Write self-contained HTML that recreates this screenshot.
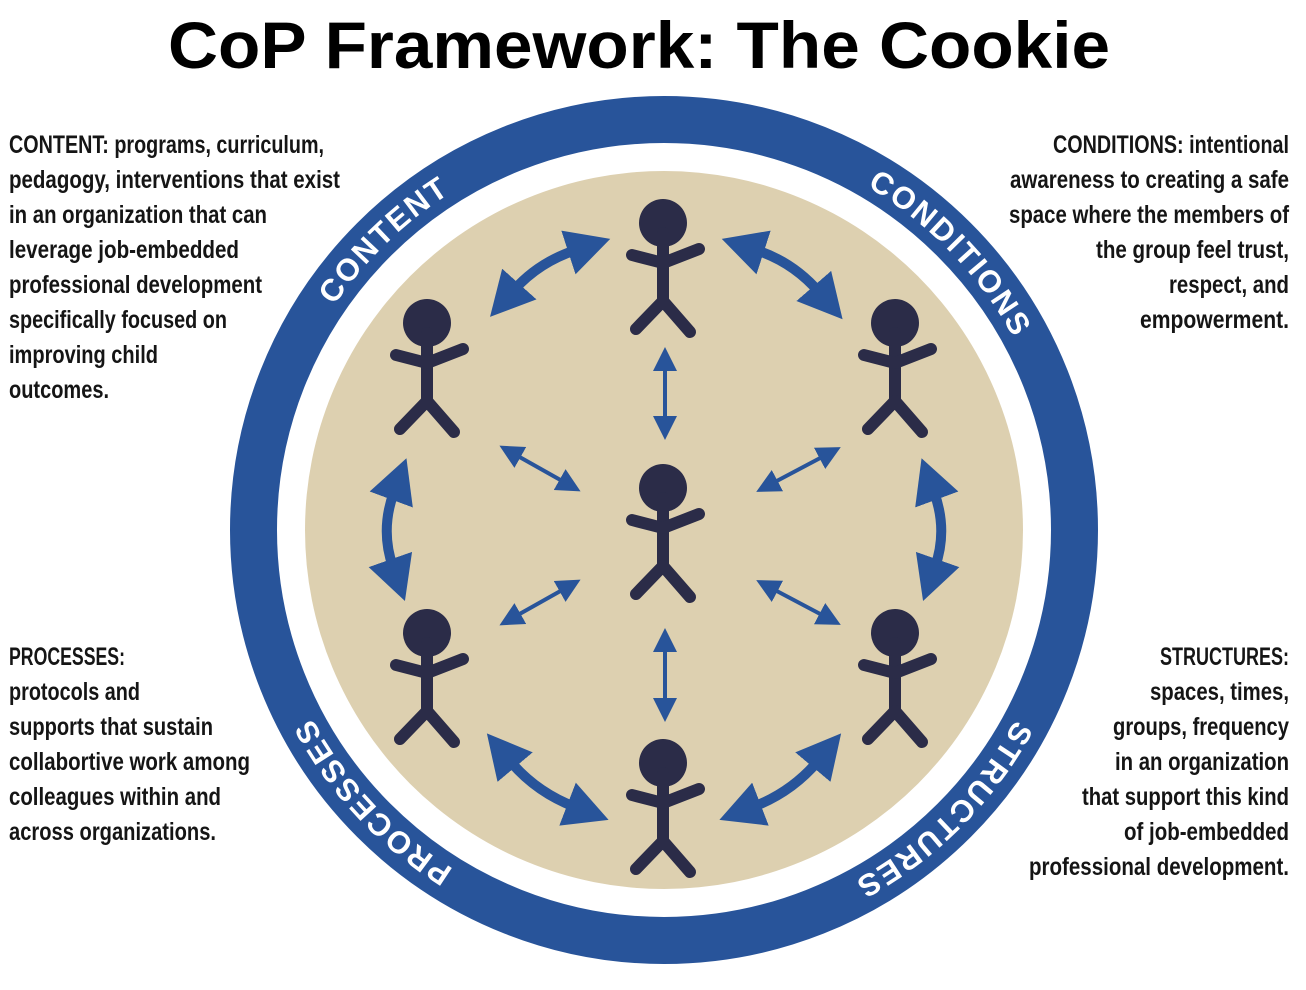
<!DOCTYPE html>
<html><head><meta charset="utf-8"><style>
html,body{margin:0;padding:0;background:#fff;}
svg{display:block}
.t{font-family:"Liberation Sans Narrow","Liberation Sans",sans-serif;font-weight:bold;font-size:25px;fill:#151515}
.ring{font-family:"Liberation Sans",sans-serif;font-weight:bold;font-size:31px;fill:#fff;letter-spacing:2px}
</style></head><body>
<svg width="1306" height="990" viewBox="0 0 1306 990" xmlns="http://www.w3.org/2000/svg">
<defs>
<marker id="big" markerUnits="userSpaceOnUse" markerWidth="50" markerHeight="50" viewBox="0 -25 50 50" refX="8" refY="0" orient="auto-start-reverse"><path d="M0,-23 L44,0 L0,23 z" fill="#28549a"/></marker>
<marker id="sm" markerUnits="userSpaceOnUse" markerWidth="26" markerHeight="26" viewBox="0 -13 26 26" refX="5" refY="0" orient="auto-start-reverse"><path d="M0,-12 L24,0 L0,12 z" fill="#28549a"/></marker>
<g id="fig" stroke="#2b2c48" stroke-width="12" stroke-linecap="round" fill="none">
<circle cx="0" cy="0" r="24" fill="#2b2c48" stroke="none"/>
<line x1="0" y1="10" x2="0" y2="80"/>
<polyline points="-31,32 0,40 36,26" stroke-linejoin="round"/>
<polyline points="-27,106 0,78 27,109" stroke-linejoin="round"/>
</g>
<path id="pContent" d="M267.2,488.3 A399,399 0 0 1 636.2,132.0"/>
<path id="pCond" d="M705.7,133.2 A399,399 0 0 1 1062.0,502.2"/>
<path id="pStruct" d="M1061.5,564.8 A399,399 0 0 1 698.8,927.5"/>
<path id="pProc" d="M615.4,926.0 A399,399 0 0 1 265.6,550.9"/>
</defs>

<text x="639" y="68" text-anchor="middle" font-family="'Liberation Sans',sans-serif" font-weight="bold" font-size="66" fill="#000" textLength="942" lengthAdjust="spacingAndGlyphs">CoP Framework: The Cookie</text>

<circle cx="664" cy="530" r="410.5" fill="none" stroke="#28549a" stroke-width="47"/>
<circle cx="664" cy="530" r="359" fill="#ddd0b0"/>

<text class="ring"><textPath href="#pContent" startOffset="50%" text-anchor="middle">CONTENT</textPath></text>
<text class="ring"><textPath href="#pCond" startOffset="50%" text-anchor="middle">CONDITIONS</textPath></text>
<text class="ring"><textPath href="#pStruct" startOffset="50%" text-anchor="middle">STRUCTURES</textPath></text>
<text class="ring"><textPath href="#pProc" startOffset="50%" text-anchor="middle">PROCESSES</textPath></text>

<g fill="none" stroke="#28549a" stroke-width="10">
<path d="M514,290 Q539,262 576,250" marker-start="url(#big)" marker-end="url(#big)"/>
<path d="M756,250 Q793,262 819,292" marker-start="url(#big)" marker-end="url(#big)"/>
<path d="M394,492 Q380,530 393,567" marker-start="url(#big)" marker-end="url(#big)"/>
<path d="M934,492 Q948,530 935,567" marker-start="url(#big)" marker-end="url(#big)"/>
<path d="M510,761 Q536,792 575,807" marker-start="url(#big)" marker-end="url(#big)"/>
<path d="M818,761 Q792,792 753,807" marker-start="url(#big)" marker-end="url(#big)"/>
</g>
<g stroke="#28549a" stroke-width="4">
<line x1="665" y1="366" x2="665" y2="421" marker-start="url(#sm)" marker-end="url(#sm)"/>
<line x1="665" y1="647" x2="665" y2="703" marker-start="url(#sm)" marker-end="url(#sm)"/>
<line x1="516" y1="455" x2="564" y2="482" marker-start="url(#sm)" marker-end="url(#sm)"/>
<line x1="824" y1="456" x2="773" y2="483" marker-start="url(#sm)" marker-end="url(#sm)"/>
<line x1="516" y1="616" x2="564" y2="589" marker-start="url(#sm)" marker-end="url(#sm)"/>
<line x1="824" y1="616" x2="773" y2="589" marker-start="url(#sm)" marker-end="url(#sm)"/>
</g>

<use href="#fig" x="663" y="223"/>
<use href="#fig" x="663" y="488"/>
<use href="#fig" x="663" y="763"/>
<use href="#fig" x="427" y="323"/>
<use href="#fig" x="895" y="323"/>
<use href="#fig" x="427" y="633"/>
<use href="#fig" x="895" y="633"/>

<g class="t">
<text x="9" y="153" textLength="315" lengthAdjust="spacingAndGlyphs">CONTENT: programs, curriculum,</text>
<text x="9" y="188" textLength="331" lengthAdjust="spacingAndGlyphs">pedagogy, interventions that exist</text>
<text x="9" y="223" textLength="258" lengthAdjust="spacingAndGlyphs">in an organization that can</text>
<text x="9" y="258" textLength="230" lengthAdjust="spacingAndGlyphs">leverage job-embedded</text>
<text x="9" y="293" textLength="253" lengthAdjust="spacingAndGlyphs">professional development</text>
<text x="9" y="328" textLength="218" lengthAdjust="spacingAndGlyphs">specifically focused on</text>
<text x="9" y="363" textLength="149" lengthAdjust="spacingAndGlyphs">improving child</text>
<text x="9" y="398" textLength="100" lengthAdjust="spacingAndGlyphs">outcomes.</text>
</g>
<g class="t" text-anchor="end">
<text x="1289" y="153" textLength="236" lengthAdjust="spacingAndGlyphs">CONDITIONS: intentional</text>
<text x="1289" y="188" textLength="279" lengthAdjust="spacingAndGlyphs">awareness to creating a safe</text>
<text x="1289" y="223" textLength="280" lengthAdjust="spacingAndGlyphs">space where the members of</text>
<text x="1289" y="258" textLength="193" lengthAdjust="spacingAndGlyphs">the group feel trust,</text>
<text x="1289" y="293" textLength="120" lengthAdjust="spacingAndGlyphs">respect, and</text>
<text x="1289" y="328" textLength="149" lengthAdjust="spacingAndGlyphs">empowerment.</text>
</g>
<g class="t">
<text x="9" y="665" textLength="116" lengthAdjust="spacingAndGlyphs">PROCESSES:</text>
<text x="9" y="700" textLength="131" lengthAdjust="spacingAndGlyphs">protocols and</text>
<text x="9" y="735" textLength="204" lengthAdjust="spacingAndGlyphs">supports that sustain</text>
<text x="9" y="770" textLength="241" lengthAdjust="spacingAndGlyphs">collabortive work among</text>
<text x="9" y="805" textLength="212" lengthAdjust="spacingAndGlyphs">colleagues within and</text>
<text x="9" y="840" textLength="207" lengthAdjust="spacingAndGlyphs">across organizations.</text>
</g>
<g class="t" text-anchor="end">
<text x="1289" y="665" textLength="129" lengthAdjust="spacingAndGlyphs">STRUCTURES:</text>
<text x="1289" y="700" textLength="139" lengthAdjust="spacingAndGlyphs">spaces, times,</text>
<text x="1289" y="735" textLength="176" lengthAdjust="spacingAndGlyphs">groups, frequency</text>
<text x="1289" y="770" textLength="174" lengthAdjust="spacingAndGlyphs">in an organization</text>
<text x="1289" y="805" textLength="207" lengthAdjust="spacingAndGlyphs">that support this kind</text>
<text x="1289" y="840" textLength="165" lengthAdjust="spacingAndGlyphs">of job-embedded</text>
<text x="1289" y="875" textLength="260" lengthAdjust="spacingAndGlyphs">professional development.</text>
</g>
</svg>
</body></html>
